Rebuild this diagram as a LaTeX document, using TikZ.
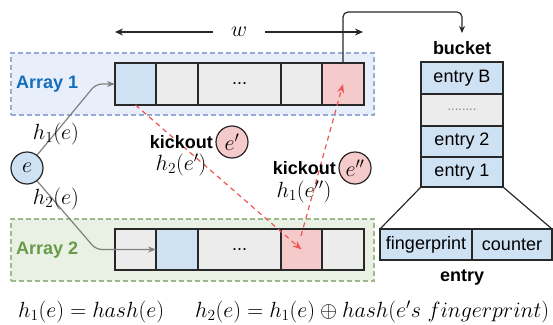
\RequirePackage{fix-cm}
\documentclass[tikz,border=0pt]{standalone}
\usepackage{fontspec}
\newfontfamily\lsans{Liberation Sans}
\usetikzlibrary{arrows.meta}
\definecolor{linec}{RGB}{40,40,40}
\definecolor{cblue}{RGB}{207,226,243}
\definecolor{cgray}{RGB}{236,236,236}
\definecolor{cpink}{RGB}{245,202,202}
\definecolor{bgone}{RGB}{232,239,250}
\definecolor{bdone}{RGB}{150,172,215}
\definecolor{bgtwo}{RGB}{232,241,227}
\definecolor{bdtwo}{RGB}{160,185,140}
\definecolor{labone}{RGB}{20,110,190}
\definecolor{labtwo}{RGB}{105,155,75}
\definecolor{kickred}{RGB}{240,85,85}
\definecolor{hashgray}{RGB}{128,128,128}
\begin{document}
\begin{tikzpicture}[x=1pt,y=-1pt,
  txt/.style={font=\lsans\fontsize{18}{21}\selectfont},
  btxt/.style={font=\lsans\bfseries\fontsize{18}{21}\selectfont, inner sep=1pt},
  mth/.style={font=\fontsize{22}{26}\selectfont, inner sep=0pt},
  cell/.style={draw=linec, line width=1.2pt, inner sep=0pt, outer sep=0pt, txt},
  row1/.style={cell, minimum height=42pt},
  row2/.style={cell, minimum height=41pt},
  arraybg/.style={line width=1.2pt, dash pattern=on 5pt off 3pt, inner sep=0pt,
    minimum width=363pt, minimum height=62pt},
  elem/.style={circle, draw=linec, line width=1.2pt, minimum size=32pt, inner sep=0pt,
    font=\fontsize{22}{26}\selectfont},
  hasharrow/.style={draw=hashgray, line width=1.2pt, rounded corners=6pt,
    -{Stealth[length=8pt,width=6pt]}},
  kickarrow/.style={draw=kickred, line width=1.2pt, dash pattern=on 5pt off 4pt,
    -{Stealth[length=9pt,width=7pt]}},
  blk/.style={draw=linec, line width=1.2pt}
]
\useasboundingbox (0,0) rectangle (553,324);

% array backgrounds
\node[arraybg, fill=bgone, draw=bdone] (arr1) at (192.5,84) {};
\node[arraybg, fill=bgtwo, draw=bdtwo] (arr2) at (192.5,250) {};
\node[btxt, text=labone, anchor=west] (lab1) at (15,84) {Array 1};
\node[btxt, text=labtwo, anchor=west] (lab2) at (15,250) {Array 2};

% array 1 cells
\node[row1, fill=cblue, minimum width=41pt] (a1c1) at (135.5,84) {};
\node[row1, fill=cgray, minimum width=42pt] (a1c2) at (177,84) {};
\node[row1, fill=cgray, minimum width=83pt] (a1c3) at (239.5,84) {...};
\node[row1, fill=cgray, minimum width=41pt] (a1c4) at (301.5,84) {};
\node[row1, fill=cpink, minimum width=42pt] (a1c5) at (343,84) {};

% array 2 cells
\node[row2, fill=cgray, minimum width=41pt] (a2c1) at (135.5,249.5) {};
\node[row2, fill=cblue, minimum width=42pt] (a2c2) at (177,249.5) {};
\node[row2, fill=cgray, minimum width=83pt] (a2c3) at (239.5,249.5) {...};
\node[row2, fill=cpink, minimum width=41pt] (a2c4) at (301.5,249.5) {};
\node[row2, fill=cgray, minimum width=42pt] (a2c5) at (343,249.5) {};

% width arrow
\coordinate (wl) at (115,32);
\coordinate (wr) at (363,32);
\draw[blk, {Stealth[length=8pt,width=7pt]}-{Stealth[length=8pt,width=7pt]}] (wl) -- node[mth, fill=white, inner xsep=18pt, inner ysep=2pt] (wlab) {$w$} (wr);

% bucket
\node[btxt] (bktlab) at (462,48) {bucket};
\node[cell, fill=cblue, minimum width=82pt, minimum height=32pt] (bB) at (462,78) {entry B};
\node[cell, fill=cgray, minimum width=82pt, minimum height=32pt, font=\lsans\fontsize{13}{15}\selectfont, text=hashgray] (bdots) at (462,110) {........};
\node[cell, fill=cblue, minimum width=82pt, minimum height=31pt] (b2) at (462,141.5) {entry 2};
\node[cell, fill=cblue, minimum width=82pt, minimum height=30pt] (b1) at (462,172) {entry 1};

% entry layout
\node[cell, fill=cblue, minimum width=92pt, minimum height=31pt] (fp) at (426,244.5) {fingerprint};
\node[cell, fill=cblue, minimum width=80pt, minimum height=31pt] (ctr) at (512,244.5) {counter};
\node[btxt] (entlab) at (462,277) {entry};
\draw[blk] (b1.south west) -- (fp.north west);
\draw[blk] (b1.south east) -- (ctr.north east);

% link from the last slot to the bucket
\coordinate (bktin) at (462,33);
\draw[blk, rounded corners=5pt, -{Stealth[length=7pt,width=6pt]}] (a1c5.north) -- (343,12) -- (462,12) -- (bktin);

% element and its two hash positions
\node[elem, fill=cblue] (e) at (27,168) {$e$};
\draw[hasharrow] (e.52) -- (96,84) -- (a1c1.west);
\draw[hasharrow] (e.-52) -- (96,249.5) -- (a2c2.west);
\node[mth] (h1e) at (56,134) {$h_1(e)$};
\node[mth] (h2e) at (56,199) {$h_2(e)$};

% kickouts
\draw[kickarrow] (a1c1.south) -- (a2c4.center);
\coordinate (k2start) at (301,236);
\draw[kickarrow] (k2start) -- (a1c5.center);

\node[btxt, anchor=east] (kick1) at (214,142) {kickout};
\node[elem, fill=cpink] (e1) at (232,142) {$e'$};
\node[mth] (h2e1) at (181,165) {$h_2(e')$};

\node[btxt, anchor=east] (kick2) at (337,168) {kickout};
\node[elem, fill=cpink] (e2) at (355,168) {$e''$};
\node[mth] (h1e2) at (304,192) {$h_1(e'')$};

% hash definitions
\node[mth, anchor=west] (def1) at (18,312) {$h_1(e) = hash(e)$};
\node[mth, anchor=west] (def2) at (195,312) {$h_2(e) = h_1(e) \oplus hash(e's\ fingerprint)$};
\end{tikzpicture}
\end{document}
